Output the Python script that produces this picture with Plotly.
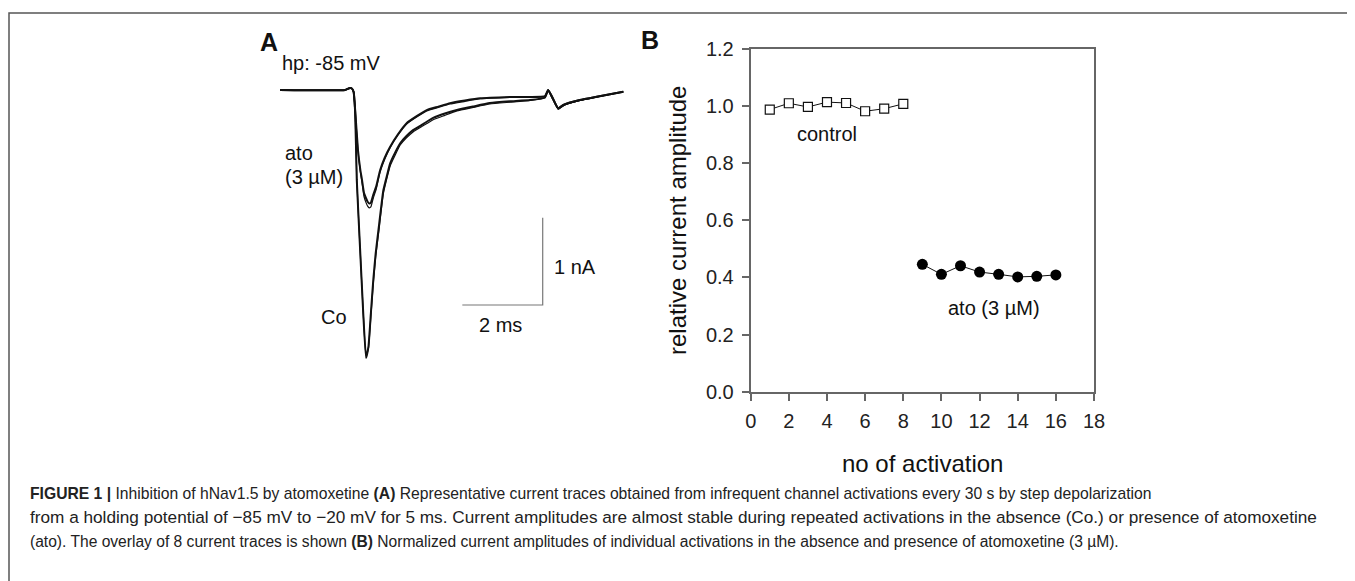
import plotly.graph_objects as go

W, H = 1355, 581          # target picture size
PAD = 8                    # page body margin around the figure
FW, FH = W - PAD, H - PAD  # figure size (extends to window edge)

# ---------------- Panel A: current traces (time in ms, current in nA) ----------------
ctrl_t = [0, 1.62, 1.72, 1.78, 1.83, 1.87, 1.91, 1.99, 2.07, 2.14, 2.20, 2.26, 2.32, 2.38, 2.45, 2.57,
          2.66, 2.74, 2.86, 2.99, 3.14, 3.31, 3.56, 3.81, 4.10, 4.40, 4.80, 5.22, 5.72, 6.22, 6.59,
          6.67, 6.77, 6.92, 7.05, 7.46, 7.88, 8.54]
ctrl_i = [0, 0, 0.02, 0.02, -0.02, -0.26, -1.03, -1.80, -2.55, -3.07, -2.94, -2.56, -2.18, -1.87, -1.60, -1.15,
          -0.98, -0.84, -0.72, -0.61, -0.53, -0.46, -0.39, -0.32, -0.27, -0.23, -0.19, -0.15, -0.13, -0.115, -0.085,
          0.0, -0.08, -0.21, -0.17, -0.115, -0.077, -0.02]
ctrl_i_b = [0, 0, 0.02, 0.02, -0.02, -0.26, -1.03, -1.80, -2.55, -3.05, -2.96, -2.60, -2.22, -1.91, -1.65, -1.19,
            -1.01, -0.87, -0.75, -0.63, -0.55, -0.48, -0.41, -0.34, -0.29, -0.24, -0.20, -0.16, -0.14, -0.12, -0.09,
            -0.01, -0.09, -0.22, -0.18, -0.12, -0.08, -0.02]

ato_t = [0, 1.62, 1.72, 1.78, 1.83, 1.87, 1.94, 2.00, 2.04, 2.09, 2.14, 2.18, 2.22, 2.26, 2.32, 2.39, 2.49,
         2.60, 2.74, 2.93, 3.15, 3.40, 3.65, 3.94, 4.23, 4.60, 4.98, 5.72, 6.59,
         6.67, 6.77, 6.92, 7.05, 7.46, 7.88, 8.54]
ato_i = [0, 0, 0.02, 0.02, -0.02, -0.23, -0.69, -0.92, -1.03, -1.18, -1.24, -1.28, -1.30, -1.29, -1.20, -1.11, -0.92,
         -0.78, -0.65, -0.51, -0.38, -0.30, -0.23, -0.19, -0.15, -0.12, -0.095, -0.08, -0.07,
         0.0, -0.08, -0.21, -0.17, -0.115, -0.077, -0.02]
ato_i_b = [0, 0, 0.02, 0.02, -0.02, -0.23, -0.70, -0.94, -1.06, -1.22, -1.29, -1.33, -1.35, -1.34, -1.24, -1.14, -0.94,
           -0.80, -0.66, -0.52, -0.39, -0.31, -0.24, -0.20, -0.16, -0.13, -0.10, -0.085, -0.075,
           0.0, -0.09, -0.22, -0.18, -0.12, -0.08, -0.02]

scale_ms = 2.0   # horizontal scale bar length
scale_nA = 1.0   # vertical scale bar length

# ---------------- Panel B: relative current amplitude ----------------
ctrl_n = [1, 2, 3, 4, 5, 6, 7, 8]
ctrl_amp = [0.988, 1.010, 0.997, 1.014, 1.011, 0.982, 0.991, 1.008]
ato_n = [9, 10, 11, 12, 13, 14, 15, 16]
ato_amp = [0.446, 0.411, 0.441, 0.419, 0.411, 0.402, 0.404, 0.409]

x_ticks = [0, 2, 4, 6, 8, 10, 12, 14, 16, 18]
y_ticks = [0.0, 0.2, 0.4, 0.6, 0.8, 1.0, 1.2]
y_tick_text = ["0.0", "0.2", "0.4", "0.6", "0.8", "1.0", "1.2"]

caption_lines = [
    "<b>FIGURE 1 |</b> Inhibition of hNav1.5 by atomoxetine <b>(A)</b> Representative current traces obtained from infrequent channel activations every 30 s by step depolarization",
    "from a holding potential of \u221285 mV to \u221220 mV for 5 ms. Current amplitudes are almost stable during repeated activations in the absence (Co.) or presence of atomoxetine",
    "(ato). The overlay of 8 current traces is shown <b>(B)</b> Normalized current amplitudes of individual activations in the absence and presence of atomoxetine (3 \u00b5M).",
]
caption_sizes = [15.7, 17.2, 15.6]

FONT = "Arial, Liberation Sans, sans-serif"


def px(x, y):
    """screen pixel -> paper fraction"""
    return (x - PAD) / FW, 1 - (y - PAD) / FH


fig = go.Figure()

# Panel A traces (xaxis2 / yaxis2)
for tt, ys, w in [(ctrl_t, ctrl_i_b, 1.2), (ato_t, ato_i_b, 1.2), (ctrl_t, ctrl_i, 2.0), (ato_t, ato_i, 2.0)]:
    fig.add_trace(go.Scatter(x=tt, y=ys, mode="lines", xaxis="x2", yaxis="y2",
                             line=dict(color="#111111", width=w, shape="spline", smoothing=0.4),
                             showlegend=False, hoverinfo="skip"))

# scale bars
sb_t0, sb_i0 = 4.535, -2.463
fig.add_trace(go.Scatter(x=[sb_t0, sb_t0 + scale_ms, sb_t0 + scale_ms],
                         y=[sb_i0, sb_i0, sb_i0 + scale_nA],
                         mode="lines", xaxis="x2", yaxis="y2",
                         line=dict(color="#777777", width=1.2), showlegend=False, hoverinfo="skip"))

# Panel B
fig.add_trace(go.Scatter(x=ctrl_n, y=ctrl_amp, mode="lines+markers",
                         line=dict(color="#111111", width=1),
                         marker=dict(symbol="square", size=9, color="white",
                                     line=dict(color="#111111", width=1.2)),
                         showlegend=False))
fig.add_trace(go.Scatter(x=ato_n, y=ato_amp, mode="lines+markers",
                         line=dict(color="#111111", width=1),
                         marker=dict(symbol="circle", size=11, color="#000000"),
                         showlegend=False))

xb0, yb0 = px(750.7, 391.7)
xb1, yb1 = px(1094, 49)
xa0, ya0 = px(280, 380)
xa1, ya1 = px(640, 60)

axis_common = dict(showgrid=False, zeroline=False, showline=True, linecolor="#666666",
                   linewidth=2, mirror=True, ticks="outside", ticklen=7, tickwidth=2,
                   tickcolor="#666666", tickfont=dict(family=FONT, size=20, color="#222222"))

fig.update_layout(
    width=FW, height=FH,
    margin=dict(l=0, r=0, t=0, b=0, pad=0, autoexpand=False),
    paper_bgcolor="white", plot_bgcolor="white",
    showlegend=False,
    xaxis=dict(domain=[xb0, xb1], range=[0, 18], tickvals=x_ticks,
               ticklabelstandoff=3, automargin=False, **axis_common),
    yaxis=dict(domain=[yb0, yb1], range=[0, 1.2], tickvals=y_ticks, ticktext=y_tick_text,
               ticklabelstandoff=4, automargin=False, **axis_common),
    xaxis2=dict(domain=[xa0, xa1], range=[0, (640 - 280) / 40.2], visible=False, anchor="y2"),
    yaxis2=dict(domain=[ya0, ya1], range=[-(380 - 90) / 87.3, (90 - 60) / 87.3], visible=False, anchor="x2"),
)

ann = []


def text(x, y, s, size=20, xanchor="center", bold=False, angle=0, color="#111111"):
    ax, ay = px(x, y)
    ann.append(dict(x=ax, y=ay, xref="paper", yref="paper", text=(f"<b>{s}</b>" if bold else s),
                    showarrow=False, xanchor=xanchor, yanchor="middle", textangle=angle,
                    font=dict(family=FONT, size=size, color=color)))


text(269, 42, "A", size=25, bold=True)
text(280, 63, "hp: -85 mV", size=20, xanchor="left")
text(283, 153, "ato", size=20, xanchor="left")
text(283, 177, "(3 \u00b5M)", size=20, xanchor="left")
text(319, 317, "Co", size=20, xanchor="left")
text(552, 267, "1 nA", size=20, xanchor="left")
text(501, 325, "2 ms", size=20)

text(650, 40, "B", size=25, bold=True)
text(827, 134, "control", size=20)
text(994, 308, "ato (3 \u00b5M)", size=20)
text(677, 221, "relative current amplitude", size=24, angle=-90)
text(922, 463, "no of activation", size=24)

for i, (line, sz) in enumerate(zip(caption_lines, caption_sizes)):
    text(28, 493 + 24 * i, line, size=sz, xanchor="left", color="#222222")

fig.update_layout(annotations=ann)

# outer frame
fx0, fy0 = px(9, 13)
fx1, fy1 = px(1353.5, 600)
fig.add_shape(type="rect", xref="paper", yref="paper", x0=fx0, y0=fy1, x1=fx1, y1=fy0,
              line=dict(color="#555555", width=1.5), fillcolor="rgba(0,0,0,0)", layer="below")

fig.write_html("out.html")
